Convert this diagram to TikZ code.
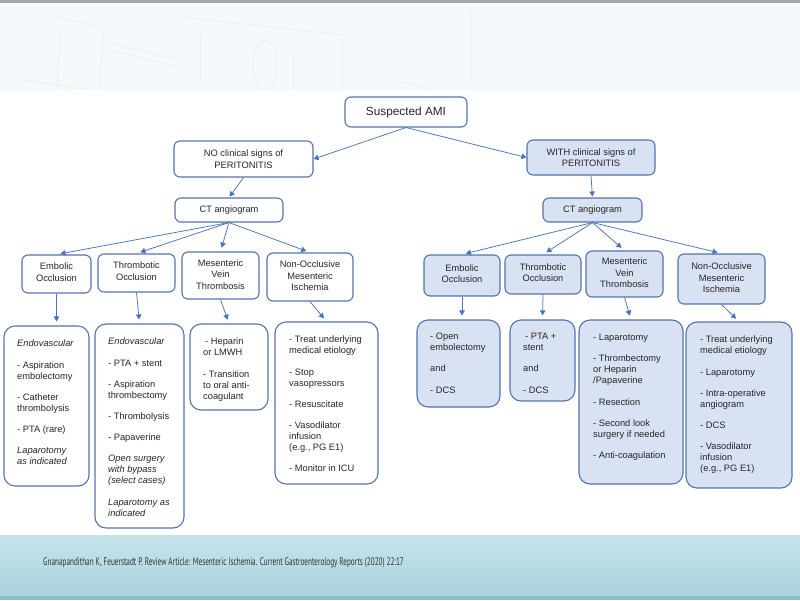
\documentclass[tikz,border=0pt]{standalone}
\usepackage{fontspec}
\setmainfont{Liberation Sans}
\newfontfamily\footfont[FakeStretch=0.655]{PT Sans}
\usetikzlibrary{arrows.meta,fit}
\definecolor{bordc}{HTML}{5673AD}
\definecolor{arrc}{HTML}{4A72C2}
\definecolor{fillc}{HTML}{D9E2F3}
\definecolor{headc}{HTML}{F4FAFB}
\definecolor{sketchc}{HTML}{E6F0F3}
\definecolor{foottop}{HTML}{C8E4EB}
\definecolor{footbot}{HTML}{A9D3DE}
\definecolor{footdark}{HTML}{8DBDCA}
\newcommand{\itemgap}{\\[10.2pt]}
\tikzset{
  box/.style={draw=bordc, line width=1.1pt, rounded corners=6pt, inner sep=0pt},
  tbox/.style={box, rounded corners=11pt},
  filled/.style={fill=fillc},
  lbl/.style={font=\fontsize{9.3}{11.5}\selectfont, align=center, text=black!85},
  txt/.style={font=\fontsize{9.3}{11}\selectfont, align=left, anchor=north west, inner sep=0pt, text=black!85},
  arr/.style={draw=arrc, line width=0.75pt, -{Triangle[length=5pt,width=5.5pt]}},
  sarr/.style={arr, shorten >=4pt}
}
\begin{document}
\begin{tikzpicture}[x=1pt,y=-1pt]
\useasboundingbox (0,0) rectangle (800,600);
% background
\fill[white] (0,0) rectangle (800,600);
\fill[headc] (0,2) rectangle (800,90);
\fill[black!35] (0,0) rectangle (800,2.5);
% faint header sketch
\begin{scope}[draw=sketchc, line width=0.8pt]
\draw (57,17) -- (103,27) -- (100,90);
\draw (60,30) -- (57,90);
\draw (110,43) -- (182,60) -- (180,67) -- (110,50);
\draw (182,17) -- (342,35) -- (342,90);
\draw (200,35) -- (200,80);
\draw (293,55) -- (293,90);
\draw (265,65) ellipse (12 and 25);
\draw (25,80) -- (90,90);
\draw (395,80) -- (430,90);
\draw (470,10) -- (470,80);
\end{scope}
% footer
\shade[top color=foottop, bottom color=footbot] (0,535) rectangle (800,596);
\fill[footdark] (0,596) rectangle (800,600);
\node[anchor=west, inner sep=0pt, font=\footfont\fontsize{11}{13}\selectfont, text=black!80] (foot) at (43,563)
  {Gnanapandithan K, Feuerstadt P. Review Article: Mesenteric Ischemia. Current Gastroenterology Reports (2020) 22:17};

% top level
\node[box, fit={(345,97) (467,127)}] (sam) {};
\node[lbl, font=\fontsize{11.8}{14}\selectfont] at (sam.center) {Suspected AMI};
\node[box, fit={(174,141) (313,177)}] (no) {};
\node[lbl] at (no.center) {NO clinical signs of\\PERITONITIS};
\node[box, filled, fit={(527,140) (655,175)}] (with) {};
\node[lbl] at (with.center) {WITH clinical signs of\\PERITONITIS};
\node[box, fit={(175,198) (283,222)}] (ctl) {};
\node[lbl] at (ctl.center) {CT angiogram};
\node[box, filled, fit={(543,198) (642,222)}] (ctr) {};
\node[lbl] at (ctr.center) {CT angiogram};

% left row 1
\node[box, fit={(22,255) (91,293)}] (le1) {};
\node[lbl] at ([yshift=2pt]le1.center) {Embolic\\Occlusion};
\node[box, fit={(98,254) (175,292)}] (lt1) {};
\node[lbl] at ([yshift=2pt]lt1.center) {Thrombotic\\Occlusion};
\node[box, fit={(182,252) (259,299)}] (lm1) {};
\node[lbl] at ([yshift=1pt]lm1.center) {Mesenteric\\Vein\\Thrombosis};
\node[box, fit={(267,253) (353,301)}] (ln1) {};
\node[lbl] at ([yshift=1pt]ln1.center) {Non-Occlusive\\Mesenteric\\Ischemia};

% right row 1
\node[box, filled, fit={(424,255) (500,296)}] (re1) {};
\node[lbl] at ([yshift=2pt]re1.center) {Embolic\\Occlusion};
\node[box, filled, fit={(505,255) (581,294)}] (rt1) {};
\node[lbl] at ([yshift=2pt]rt1.center) {Thrombotic\\Occlusion};
\node[box, filled, fit={(586,251) (663,297)}] (rm1) {};
\node[lbl] at ([yshift=1pt]rm1.center) {Mesenteric\\Vein\\Thrombosis};
\node[box, filled, fit={(678,254) (765,304)}] (rn1) {};
\node[lbl] at ([yshift=1pt]rn1.center) {Non-Occlusive\\Mesenteric\\Ischemia};

% left treatments
\node[tbox, fit={(4,326) (89,486)}] (le2) {};
\node[txt] at (17,340) {\textit{Endovascular}\itemgap
- Aspiration\\embolectomy\itemgap
- Catheter\\thrombolysis\itemgap
- PTA (rare)\itemgap
\textit{Laparotomy}\\\textit{as indicated}};
\node[tbox, fit={(95,324) (184,528)}] (lt2) {};
\node[txt] at (108,338) {\textit{Endovascular}\itemgap
- PTA + stent\itemgap
- Aspiration\\thrombectomy\itemgap
- Thrombolysis\itemgap
- Papaverine\itemgap
\textit{Open surgery}\\\textit{with bypass}\\\textit{(select cases)}\itemgap
\textit{Laparotomy as}\\\textit{indicated}};
\node[tbox, fit={(190,324) (268,410)}] (lm2) {};
\node[txt] at (203,338) {\hspace{2pt}- Heparin\\or LMWH\itemgap
- Transition\\to oral anti-\\coagulant};
\node[tbox, fit={(275,322) (378,484)}] (ln2) {};
\node[txt] at (289,336) {- Treat underlying\\medical etiology\itemgap
- Stop\\vasopressors\itemgap
- Resuscitate\itemgap
- Vasodilator\\infusion\\(e.g., PG E1)\itemgap
- Monitor in ICU};

% right treatments
\node[tbox, filled, fit={(417,320) (500,407)}] (re2) {};
\node[txt] at (430,333) {- Open\\embolectomy\itemgap
and\itemgap
- DCS};
\node[tbox, filled, fit={(510,320) (575,401)}] (rt2) {};
\node[txt] at (523,333) {\hspace{2pt}- PTA +\\stent\itemgap
and\itemgap
- DCS};
\node[tbox, filled, fit={(579,320) (683,484)}] (rm2) {};
\node[txt] at (593,334) {- Laparotomy\itemgap
- Thrombectomy\\or Heparin\\/Papaverine\itemgap
- Resection\itemgap
- Second look\\surgery if needed\itemgap
- Anti-coagulation};
\node[tbox, filled, fit={(686,322) (792,488)}] (rn2) {};
\node[txt] at (700,336) {- Treat underlying\\medical etiology\itemgap
- Laparotomy\itemgap
- Intra-operative\\angiogram\itemgap
- DCS\itemgap
- Vasodilator\\infusion\\(e.g., PG E1)};

% connectors
\draw[arr] (sam.south) -- (no.east);
\draw[arr] (sam.south) -- (with.west);
\draw[arr, shorten >=1pt] (no.south) -- (ctl.north);
\draw[arr, shorten >=1pt] (with.south) -- (ctr.north);
\draw[sarr] (ctl.south) -- (le1.north);
\draw[sarr] (ctl.south) -- (lt1.north);
\draw[sarr] (ctl.south) -- (lm1.north);
\draw[sarr] (ctl.south) -- (ln1.north);
\draw[sarr] (ctr.south) -- (re1.north);
\draw[sarr] (ctr.south) -- (rt1.north);
\draw[sarr] (ctr.south) -- (rm1.north);
\draw[sarr] (ctr.south) -- (rn1.north);
\draw[sarr] (le1.south) -- (le1.south |- le2.north);
\draw[sarr] (lt1.south) -- (lt2.north);
\draw[sarr] (lm1.south) -- (lm2.north);
\draw[sarr] (ln1.south) -- (ln2.north);
\draw[sarr] (re1.south) -- (re1.south |- re2.north);
\draw[sarr] (rt1.south) -- (rt2.north);
\draw[sarr] (rm1.south) -- (rm2.north);
\draw[sarr] (rn1.south) -- (rn2.north);
\end{tikzpicture}
\end{document}
